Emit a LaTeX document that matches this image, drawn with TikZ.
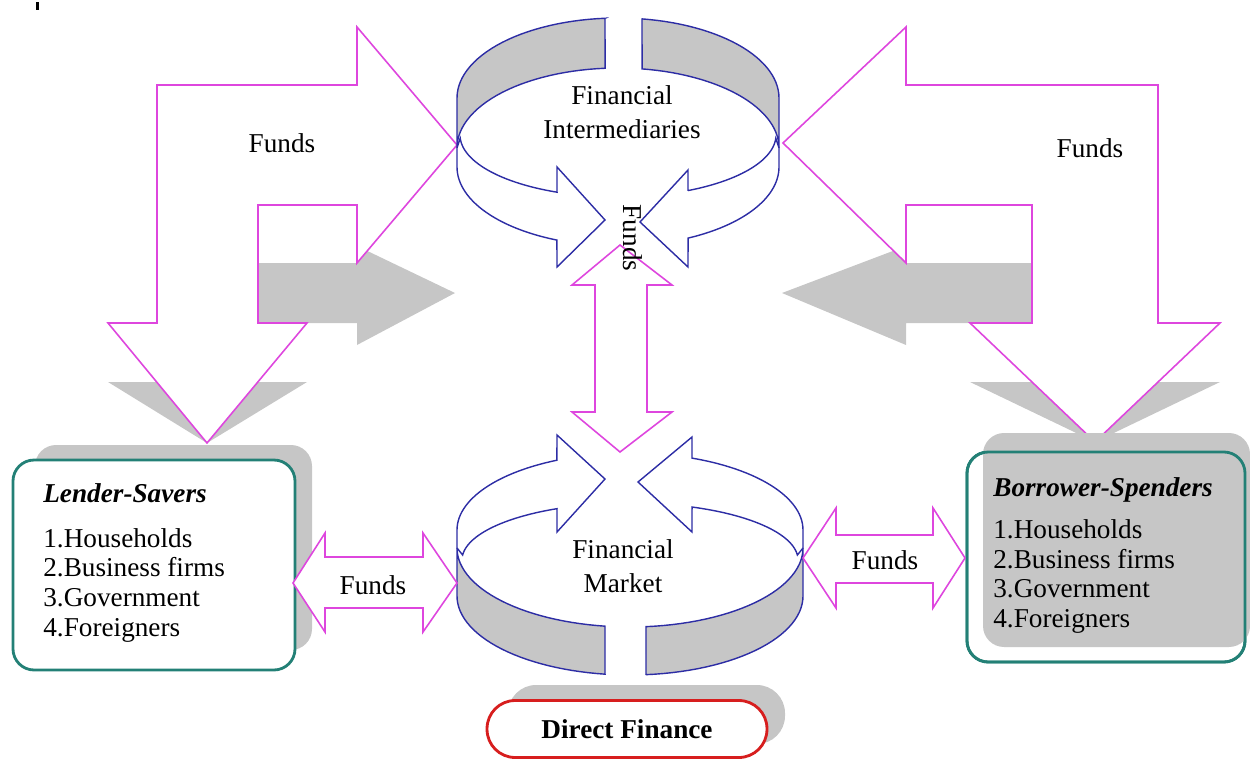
\documentclass[tikz,border=0pt]{standalone}
\usepackage{fontspec}
\setmainfont{Liberation Serif}

\definecolor{fundpink}{RGB}{222,70,222}
\definecolor{ringblue}{RGB}{45,45,165}
\definecolor{boxteal}{RGB}{35,128,118}
\definecolor{shadegray}{RGB}{198,198,198}
\definecolor{ovalred}{RGB}{215,30,30}

\begin{document}
\begin{tikzpicture}[
  x=0.02cm, y=-0.02cm,
  font=\fontsize{15.5}{19}\selectfont,
  fundarrow/.style={draw=fundpink, fill=white, line width=0.9pt},
  shade/.style={fill=shadegray, draw=none},
  ringarrow/.style={draw=ringblue, fill=white, line width=0.8pt},
  ringband/.style={draw=ringblue, fill=shadegray, line width=0.8pt},
  lbl/.style={inner sep=1pt, align=center},
  listbox/.style={draw=boxteal, line width=1.6pt, rounded corners=12pt},
  listtext/.style={anchor=north west, align=left, inner sep=0pt}
]
\useasboundingbox (0,0) rectangle (1250,760);
\fill (35.5,2) rectangle (38.5,10);

% Shadows
\fill[shade] (258,263) -- (357,263) -- (357,246) -- (455,293) -- (357,345) -- (357,323) -- (258,323) -- cycle;
\fill[shade] (108,382) -- (307,382) -- (207,443) -- cycle;
\fill[shade] (1032,263) -- (906,263) -- (906,246) -- (782,293) -- (906,345) -- (906,323) -- (1032,323) -- cycle;
\fill[shade] (970,382) -- (1220,382) -- (1095,442) -- cycle;

% Big bent arrows
\draw[fundarrow] (157,85) -- (357,85) -- (357,27) -- (457,145) -- (357,263) -- (357,205) -- (258,205)
  -- (258,323) -- (307,323) -- (207,443) -- (108,323) -- (157,323) -- cycle;
\draw[fundarrow] (783,143) -- (906,27) -- (906,85) -- (1158,85) -- (1158,323) -- (1220,323) -- (1095,442)
  -- (970,323) -- (1032,323) -- (1032,205) -- (906,205) -- (906,263) -- cycle;

% Upper ring (intermediaries)
\draw[ringband] plot[domain=180:265.4, samples=30] ({618+161*cos(\x)}, {148+80*sin(\x)}) -- (605,18.3)
  -- plot[domain=265.4:180, samples=30] ({618+161*cos(\x)}, {98+80*sin(\x)}) -- cycle;
\draw[ringband] plot[domain=360:278.6, samples=30] ({618+161*cos(\x)}, {148+80*sin(\x)}) -- (642,19)
  -- plot[domain=278.6:360, samples=30] ({618+161*cos(\x)}, {98+80*sin(\x)}) -- cycle;
\draw[ringarrow] plot[domain=180:112.3, samples=30] ({618+161*cos(\x)}, {167+79*sin(\x)})
  -- (557,267) -- (605,220) -- (557,167) -- (557,192)
  -- plot[domain=112.7:177, samples=30] ({618+158*cos(\x)}, {135+62*sin(\x)}) -- (457,148) -- cycle;
\draw[ringarrow] plot[domain=0:64.2, samples=30] ({618+161*cos(\x)}, {167+79*sin(\x)})
  -- (688,267) -- (640,222) -- (688,170) -- (688,191)
  -- plot[domain=63.7:3, samples=30] ({618+158*cos(\x)}, {135+62*sin(\x)}) -- (779,148) -- cycle;

% Lower ring (market)
\draw[ringarrow] plot[domain=180:245, samples=30] ({630+173*cos(\x)}, {530+77*sin(\x)})
  -- (557,435) -- (605,479) -- (557,532) -- (557,509)
  -- plot[domain=244.25:185, samples=30] ({630+168*cos(\x)}, {560+57*sin(\x)}) -- (457,548) -- cycle;
\draw[ringarrow] plot[domain=360:291, samples=30] ({630+173*cos(\x)}, {530+77*sin(\x)})
  -- (692,437) -- (638,482) -- (692,532) -- (692,510)
  -- plot[domain=291.7:355, samples=30] ({630+168*cos(\x)}, {560+57*sin(\x)}) -- (803,548) -- cycle;
\draw[ringband] plot[domain=180:98.3, samples=30] ({630+173*cos(\x)}, {548+79*sin(\x)}) -- (605,674)
  -- plot[domain=98.3:180, samples=30] ({630+173*cos(\x)}, {596+79*sin(\x)}) -- cycle;
\draw[ringband] plot[domain=0:84.7, samples=30] ({630+173*cos(\x)}, {548+79*sin(\x)}) -- (646,675)
  -- plot[domain=84.7:0, samples=30] ({630+173*cos(\x)}, {596+79*sin(\x)}) -- cycle;

% Boxes
\fill[shadegray, rounded corners=12pt] (35,445) rectangle (312,650);
\draw[listbox, fill=white] (13,460) rectangle (295,670);
\draw[listbox, fill=white] (967,452) rectangle (1245,662);
\fill[shadegray, rounded corners=12pt] (983,433) rectangle (1250,647);
\draw[listbox] (967,452) rectangle (1245,662);

\node[listtext, font=\fontsize{15.5}{17}\selectfont] (lenders) at (43,483)
  {\textbf{\textit{Lender-Savers}}\\[8.5pt] 1.Households\\ 2.Business firms\\ 3.Government\\ 4.Foreigners};
\node[listtext, font=\fontsize{15.5}{16.8}\selectfont] (borrowers) at (993,477)
  {\textbf{\textit{Borrower-Spenders}}\\[7.5pt] 1.Households\\ 2.Business firms\\ 3.Government\\ 4.Foreigners};

% Double arrows
\draw[fundarrow] (620,245) -- (672,285) -- (647,285) -- (647,412) -- (672,412) -- (620,452)
  -- (572,412) -- (595,412) -- (595,285) -- (572,285) -- cycle;
\draw[fundarrow] (293,583) -- (325,533) -- (325,557) -- (423,557) -- (423,533) -- (457,583)
  -- (423,632) -- (423,608) -- (325,608) -- (325,632) -- cycle;
\draw[fundarrow] (803,558) -- (836,508) -- (836,535) -- (933,535) -- (933,508) -- (965,558)
  -- (933,608) -- (933,583) -- (836,583) -- (836,608) -- cycle;

% Direct finance
\fill[shadegray, rounded corners=16pt] (508,685) rectangle (785,744);
\node[draw=ovalred, line width=1.6pt, fill=white, rounded corners=16pt,
  minimum width=5.6cm, minimum height=1.14cm] (direct) at (627,729) {\textbf{Direct Finance}};

% Labels
\node[lbl] (fundsnw) at (282,143) {Funds};
\node[lbl] (fundsne) at (1090,148) {Funds};
\node[lbl, rotate=-90] (fundsmid) at (633,238) {Funds};
\node[lbl] (fundsw) at (373,585) {Funds};
\node[lbl] (fundse) at (885,560) {Funds};
\node[lbl] (interm) at (622,112) {Financial\\Intermediaries};
\node[lbl] (market) at (623,566) {Financial\\Market};

\end{tikzpicture}
\end{document}
